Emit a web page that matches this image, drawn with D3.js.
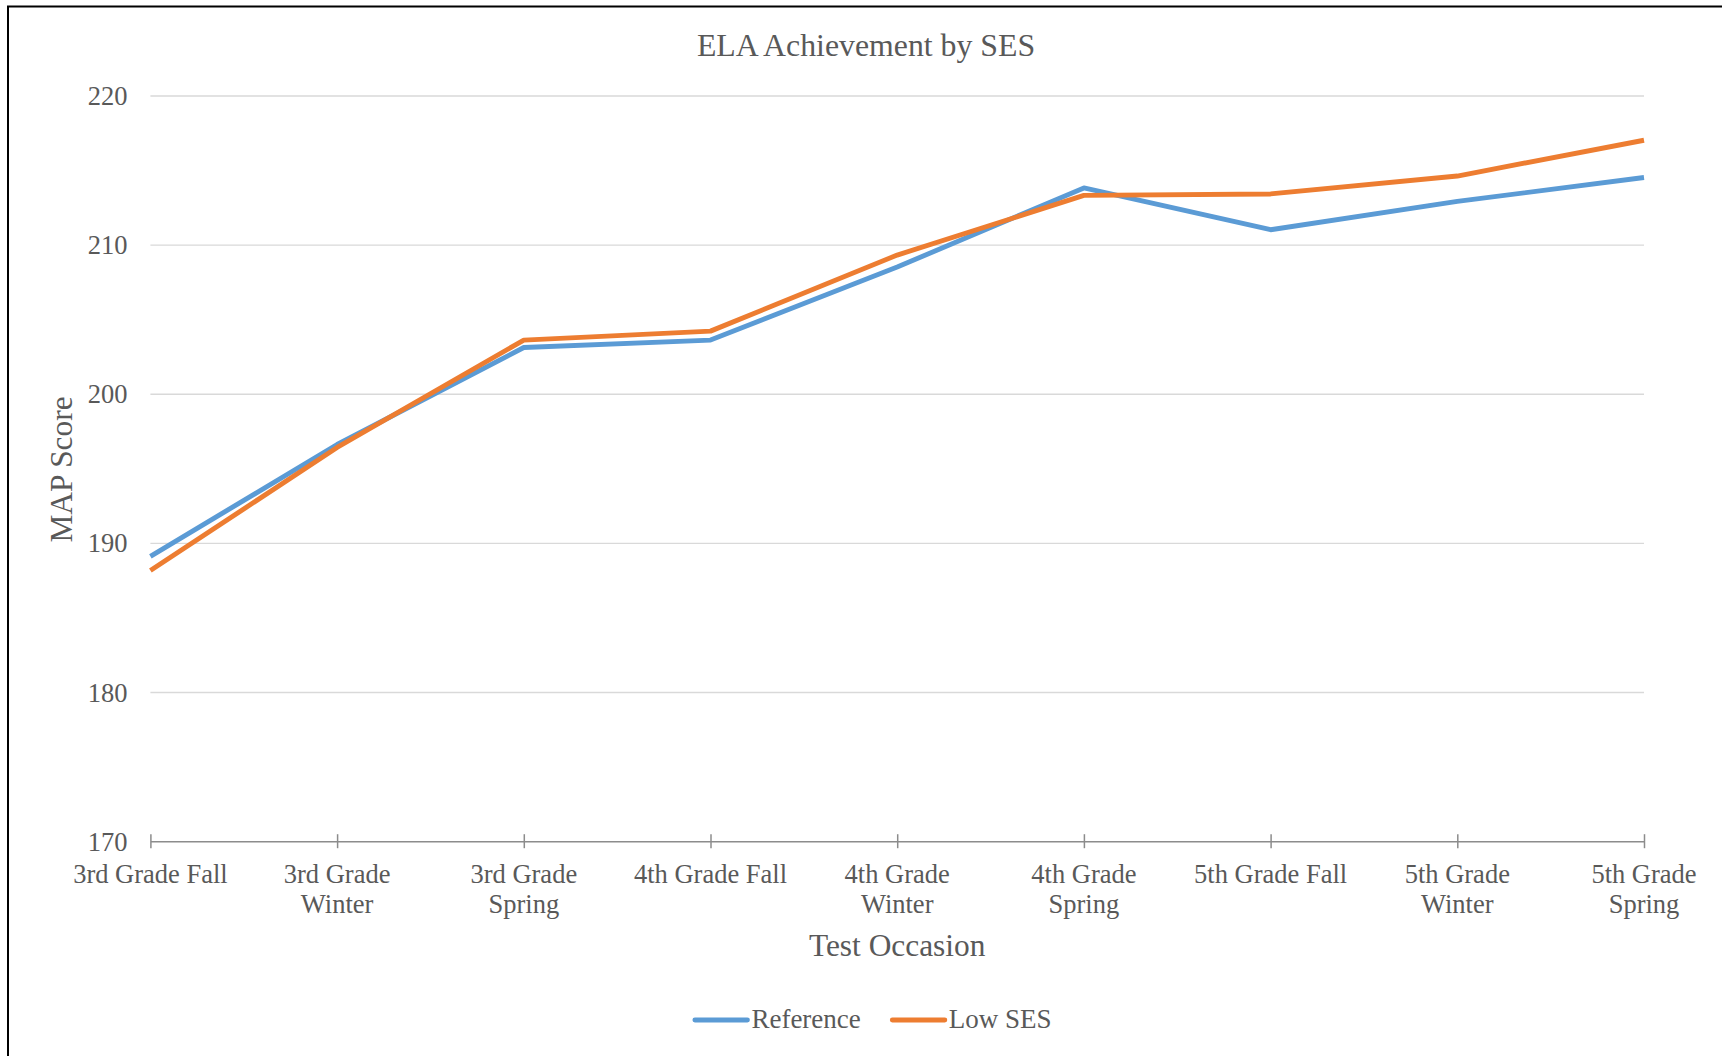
<!DOCTYPE html>
<html>
<head>
<meta charset="utf-8">
<script src="https://cdnjs.cloudflare.com/ajax/libs/d3/7.8.5/d3.min.js"></script>
<style>
  html, body { margin: 0; padding: 0; background: #ffffff; }
  svg { display: block; }
  text { font-family: "Times New Roman", "Liberation Serif", "DejaVu Serif", serif; fill: #595959; }
</style>
</head>
<body>
<svg id="chart" width="1722" height="1056"></svg>
<script>
// Test occasions along the x axis
const categories = [
  "3rd Grade Fall", "3rd Grade Winter", "3rd Grade Spring",
  "4th Grade Fall", "4th Grade Winter", "4th Grade Spring",
  "5th Grade Fall", "5th Grade Winter", "5th Grade Spring"
];

// Mean MAP ELA scores per group
const referenceScores = [189.1, 196.6, 203.1, 203.6, 208.5, 213.8, 211.0, 212.9, 214.5];
const lowSesScores    = [188.15, 196.4, 203.6, 204.2, 209.3, 213.3, 213.4, 214.6, 217.0];

// Y axis ticks
const yTicks = [170, 180, 190, 200, 210, 220];

// Series names and colours
const seriesNames = ["Reference", "Low SES"];
const seriesColors = ["#5B9BD5", "#ED7D31"];

const svg = d3.select("#chart");

// outer frame of the chart
svg.append("rect")
  .attr("x", 8).attr("y", 6.5)
  .attr("width", 1800).attr("height", 1200)
  .attr("fill", "none")
  .attr("stroke", "#000")
  .attr("stroke-width", 2);

const plotLeft = 150.4, plotRight = 1644, plotTop = 95.5, plotBottom = 841.2;

const x = d3.scalePoint().domain(categories).range([plotLeft, plotRight]).padding(0);
const y = d3.scaleLinear().domain([170, 220]).range([plotBottom, plotTop]);

// gridlines
const grid = svg.append("g")
  .attr("transform", `translate(${plotLeft},0)`)
  .call(d3.axisLeft(y).tickValues(yTicks.filter(t => t !== 170)).tickSize(-(plotRight - plotLeft)).tickFormat(""));
grid.select(".domain").remove();
grid.selectAll(".tick line").attr("stroke", "#D9D9D9").attr("stroke-width", 1.4);

// y axis labels
const yAxis = svg.append("g")
  .attr("transform", `translate(${plotLeft},0)`)
  .call(d3.axisLeft(y).tickValues(yTicks).tickSize(0).tickPadding(23));
yAxis.select(".domain").remove();
yAxis.selectAll(".tick text")
  .attr("font-size", 26.5)
  .style("font-family", '"Times New Roman", "Liberation Serif", serif')
  .attr("fill", "#595959")
  .attr("dy", "0.34em");

// x axis
const xAxis = svg.append("g")
  .attr("transform", `translate(0,${plotBottom})`)
  .call(d3.axisBottom(x).tickSizeOuter(0).tickSizeInner(7).tickFormat(""));
xAxis.select(".domain").attr("stroke", "#8C8C8C").attr("stroke-width", 1.5);
xAxis.selectAll(".tick line")
  .attr("stroke", "#8C8C8C").attr("stroke-width", 1.5)
  .attr("y1", -7).attr("y2", 7);

// x tick labels, wrapped onto two lines when too wide
const maxLabelWidth = 176;
const labelG = svg.append("g");
categories.forEach(cat => {
  const t = labelG.append("text")
    .attr("x", x(cat))
    .attr("y", 882.7)
    .attr("text-anchor", "middle")
    .attr("font-size", 26.5)
    .text(cat);
  if (t.node().getComputedTextLength() > maxLabelWidth) {
    const words = cat.split(" ");
    const last = words.pop();
    t.text(null);
    t.append("tspan").attr("x", x(cat)).attr("dy", 0).text(words.join(" "));
    t.append("tspan").attr("x", x(cat)).attr("dy", 30).text(last);
  }
});

// series lines
const line = d3.line()
  .x((d, i) => x(categories[i]))
  .y(d => y(d));

[referenceScores, lowSesScores].forEach((vals, k) => {
  svg.append("path")
    .datum(vals)
    .attr("d", line)
    .attr("fill", "none")
    .attr("stroke", seriesColors[k])
    .attr("stroke-width", 4.9)
    .attr("stroke-linejoin", "round")
    .attr("stroke-linecap", "butt");
});

// titles
svg.append("text")
  .attr("x", 866).attr("y", 55.5)
  .attr("text-anchor", "middle")
  .attr("font-size", 31.8)
  .text("ELA Achievement by SES");

svg.append("text")
  .attr("x", (plotLeft + plotRight) / 2).attr("y", 955.5)
  .attr("text-anchor", "middle")
  .attr("font-size", 31.4)
  .text("Test Occasion");

svg.append("text")
  .attr("transform", "translate(72,469.5) rotate(-90)")
  .attr("text-anchor", "middle")
  .attr("font-size", 31.4)
  .text("MAP Score");

// legend
const legend = svg.append("g");
let cursor = 0;
seriesNames.forEach((name, k) => {
  const g = legend.append("g");
  g.append("line")
    .attr("x1", cursor + 2.5).attr("x2", cursor + 55)
    .attr("y1", 0).attr("y2", 0)
    .attr("stroke", seriesColors[k])
    .attr("stroke-width", 4.9)
    .attr("stroke-linecap", "round");
  const t = g.append("text")
    .attr("x", cursor + 59).attr("y", 7.5)
    .attr("font-size", 27)
    .text(name);
  cursor += 59 + t.node().getComputedTextLength() + 29;
});
const legendWidth = cursor - 29;
legend.attr("transform", `translate(${872 - legendWidth / 2},1020)`);
</script>
</body>
</html>
